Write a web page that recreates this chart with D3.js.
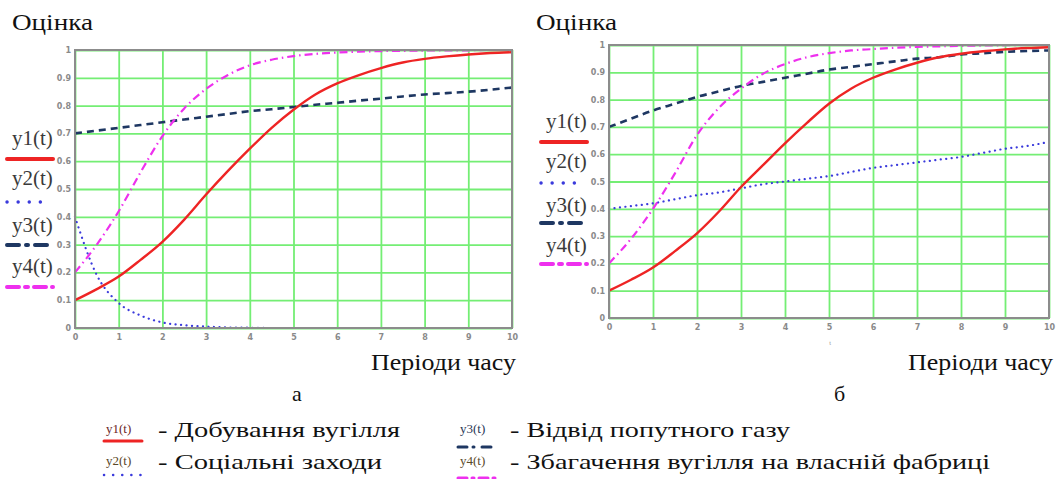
<!DOCTYPE html>
<html>
<head>
<meta charset="utf-8">
<script src="https://cdn.jsdelivr.net/npm/d3@7"></script>
<style>
  body { margin: 0; background: #fff; }
  svg { display: block; }
</style>
</head>
<body>
<svg id="mainFrame"></svg>
<script>
// values, t = 0, 0.5, ... 10
const tValues = [0, 0.5, 1, 1.5, 2, 2.5, 3, 3.5, 4, 4.5, 5, 5.5, 6, 6.5, 7, 7.5, 8, 8.5, 9, 9.5, 10];

// panel a
const a_y1 = [0.10, 0.14, 0.185, 0.245, 0.31, 0.39, 0.48, 0.565, 0.645, 0.72, 0.785, 0.84, 0.88, 0.91, 0.935, 0.955, 0.968, 0.977, 0.984, 0.989, 0.992];
const a_y2 = [0.40, 0.19, 0.09, 0.045, 0.02, 0.01, 0.005, 0.002, 0.001, 0, 0, 0, 0, 0, 0, 0, 0, 0, 0, 0, 0];
const a_y3 = [0.70, 0.71, 0.72, 0.73, 0.74, 0.75, 0.76, 0.77, 0.78, 0.787, 0.795, 0.803, 0.81, 0.818, 0.825, 0.833, 0.84, 0.845, 0.85, 0.857, 0.865];
const a_y4 = [0.20, 0.30, 0.42, 0.56, 0.69, 0.79, 0.86, 0.91, 0.945, 0.965, 0.978, 0.986, 0.991, 0.994, 0.996, 0.997, 0.998, 0.999, 0.999, 1.0, 1.0];

// panel b
const b_y1 = [0.10, 0.14, 0.185, 0.245, 0.31, 0.39, 0.48, 0.56, 0.64, 0.715, 0.785, 0.84, 0.88, 0.91, 0.935, 0.955, 0.968, 0.977, 0.984, 0.989, 0.992];
const b_y2 = [0.40, 0.41, 0.42, 0.435, 0.45, 0.46, 0.475, 0.49, 0.50, 0.51, 0.52, 0.535, 0.55, 0.56, 0.57, 0.58, 0.59, 0.605, 0.62, 0.63, 0.645];
const b_y3 = [0.70, 0.73, 0.76, 0.785, 0.81, 0.83, 0.85, 0.865, 0.88, 0.895, 0.91, 0.92, 0.93, 0.94, 0.95, 0.955, 0.965, 0.97, 0.975, 0.978, 0.98];
const b_y4 = [0.20, 0.29, 0.40, 0.53, 0.67, 0.77, 0.84, 0.895, 0.93, 0.955, 0.97, 0.98, 0.985, 0.99, 0.993, 0.995, 0.997, 0.998, 0.999, 1.0, 1.0];

const xTicks = [0, 1, 2, 3, 4, 5, 6, 7, 8, 9, 10];
const yTicks = [0, 0.1, 0.2, 0.3, 0.4, 0.5, 0.6, 0.7, 0.8, 0.9, 1];
const seriesNames = ["y1(t)", "y2(t)", "y3(t)", "y4(t)"];
const legendTexts = ["- Добування вугілля", "- Соціальні заходи", "- Відвід попутного газу", "- Збагачення вугілля на власній фабриці"];

const width = 1059, height = 479;
const serif = "\"Liberation Serif\", \"DejaVu Serif\", serif";

// line styles for y1..y4
const styles = [
    { color: "#ee2424", w: 2.4, dash: null, cap: "butt", lw: 4, ldash: null },
    { color: "#3a3adc", w: 2.2, dash: "0.1,5.4", cap: "round", lw: 3.4, ldash: "0.1,11" },
    { color: "#1e3762", w: 2.6, dash: "7,5", cap: "butt", lw: 4, ldash: "12,7,2,7" },
    { color: "#ee30ee", w: 2.2, dash: "8,4,1.5,4", cap: "butt", lw: 4, ldash: "12,6,3,6" }
];

const panels = [
    { x0: 75, x1: 512, y0: 50, y1: 328, data: [a_y1, a_y2, a_y3, a_y4], title: "Оцінка", tx: 12, label: "а", lx: 292,
      legendX: 7, legendY: [145, 185, 232, 273], markY: [159, 202, 245, 287], markW: [46, 42, 46, 46] },
    { x0: 609, x1: 1049, y0: 45, y1: 318, data: [b_y1, b_y2, b_y3, b_y4], title: "Оцінка", tx: 536, label: "б", lx: 834,
      legendX: 541, legendY: [128, 168, 212, 252], markY: [142, 183, 223, 264], markW: [46, 42, 46, 46] }
];

const svg = d3.select("#mainFrame")
    .attr("width", width)
    .attr("height", height);

function serifText(sel) {
    return sel.style("font-family", serif);
}

panels.forEach(p => {
    const x = d3.scaleLinear().domain([0, 10]).range([p.x0, p.x1]);
    const y = d3.scaleLinear().domain([0, 1]).range([p.y1, p.y0]);
    const g = svg.append("g");

    // green grid
    g.append("g")
        .attr("transform", `translate(0,${p.y1})`)
        .call(d3.axisBottom(x).tickValues(xTicks).tickSize(-(p.y1 - p.y0)).tickFormat(""))
        .call(s => s.select(".domain").remove())
        .call(s => s.selectAll("line").attr("stroke", "#74ee74").attr("stroke-width", 1.8));
    g.append("g")
        .attr("transform", `translate(${p.x0},0)`)
        .call(d3.axisLeft(y).tickValues(yTicks).tickSize(-(p.x1 - p.x0)).tickFormat(""))
        .call(s => s.select(".domain").remove())
        .call(s => s.selectAll("line").attr("stroke", "#74ee74").attr("stroke-width", 1.8));

    // tick labels
    g.append("g")
        .attr("transform", `translate(0,${p.y1 + 3})`)
        .call(d3.axisBottom(x).tickValues(xTicks).tickSize(0).tickFormat(d3.format("d")))
        .call(s => s.select(".domain").remove())
        .call(s => s.selectAll("text").attr("fill", "#8a8a8a").attr("font-size", 8).attr("font-weight", "bold")
            .attr("font-family", "'DejaVu Sans', sans-serif"));
    g.append("g")
        .attr("transform", `translate(${p.x0 - 1},0)`)
        .call(d3.axisLeft(y).tickValues(yTicks).tickSize(0).tickFormat(d => d === 0 || d === 1 ? d3.format("d")(d) : d3.format(".1f")(d)))
        .call(s => s.select(".domain").remove())
        .call(s => s.selectAll("text").attr("fill", "#8a8a8a").attr("font-size", 8).attr("font-weight", "bold")
            .attr("font-family", "'DejaVu Sans', sans-serif"));

    // curves
    const line = d3.line()
        .x((d, i) => x(tValues[i]))
        .y(d => y(d))
        .curve(d3.curveMonotoneX);
    [2, 1, 3, 0].forEach(k => {
        const st = styles[k];
        g.append("path")
            .datum(p.data[k])
            .attr("d", line)
            .attr("fill", "none")
            .attr("stroke", st.color)
            .attr("stroke-width", st.w)
            .attr("stroke-linecap", st.cap)
            .attr("stroke-dasharray", st.dash);
    });

    // frame
    g.append("rect")
        .attr("x", p.x0).attr("y", p.y0)
        .attr("width", p.x1 - p.x0).attr("height", p.y1 - p.y0)
        .attr("fill", "none").attr("stroke", "#8c8c8c").attr("stroke-width", 2);

    // series labels on the y side
    seriesNames.forEach((name, k) => {
        const st = styles[k];
        g.append("text")
            .call(serifText)
            .attr("x", p.legendX + 5).attr("y", p.legendY[k])
            .attr("font-size", 21)
            .attr("fill", "#3a3a3a")
            .text(name);
        g.append("line")
            .attr("x1", p.legendX).attr("x2", p.legendX + p.markW[k])
            .attr("y1", p.markY[k]).attr("y2", p.markY[k])
            .attr("stroke", st.color)
            .attr("stroke-width", st.lw)
            .attr("stroke-linecap", "round")
            .attr("stroke-dasharray", st.ldash);
    });

    // titles
    g.append("text")
        .call(serifText)
        .attr("x", p.tx).attr("y", 30)
        .attr("font-size", 24).attr("fill", "#111")
        .attr("textLength", 81).attr("lengthAdjust", "spacingAndGlyphs")
        .text(p.title);
    g.append("text")
        .call(serifText)
        .attr("x", p.x1 + 4 - 145).attr("y", 370)
        .attr("font-size", 24).attr("fill", "#111")
        .attr("textLength", 145).attr("lengthAdjust", "spacingAndGlyphs")
        .text("Періоди часу");
    g.append("text")
        .call(serifText)
        .attr("x", p.lx).attr("y", 401)
        .attr("font-size", 22).attr("fill", "#111")
        .text(p.label);
});

// small t under the right axis
svg.append("text")
    .attr("x", 830).attr("y", 345)
    .attr("text-anchor", "middle")
    .attr("font-family", "sans-serif").attr("font-size", 6).attr("fill", "#999")
    .text("t");

// bottom legend
const legendItems = [
    { k: 0, lx: 106, ty: 437, my: 441, tx: 158, tl: 242 },
    { k: 1, lx: 106, ty: 469, my: 475, tx: 158, tl: 224 },
    { k: 2, lx: 460, ty: 437, my: 447, tx: 510, tl: 280 },
    { k: 3, lx: 460, ty: 469, my: 478, tx: 510, tl: 480 }
];
const legendColors = ["#6b2626", "#5a4626", "#2a3655", "#5a4a2a"];

legendItems.forEach(d => {
    const st = styles[d.k];
    svg.append("text")
        .call(serifText)
        .attr("x", d.lx).attr("y", d.ty - 4)
        .attr("font-size", 13)
        .attr("fill", legendColors[d.k])
        .text(seriesNames[d.k]);
    svg.append("line")
        .attr("x1", d.lx - 2).attr("x2", d.lx + 36)
        .attr("y1", d.my).attr("y2", d.my)
        .attr("stroke", st.color)
        .attr("stroke-width", d.k === 1 ? 2.5 : 3)
        .attr("stroke-linecap", "round")
        .attr("stroke-dasharray", d.k === 0 ? null : d.k === 1 ? "0.1,9" : d.k === 2 ? "9,6,1,8" : "9,5,2,5");
    svg.append("text")
        .call(serifText)
        .attr("x", d.tx).attr("y", d.ty)
        .attr("font-size", 21)
        .attr("fill", "#111")
        .attr("textLength", d.tl)
        .attr("lengthAdjust", "spacingAndGlyphs")
        .text(legendTexts[d.k]);
});
</script>
</body>
</html>
